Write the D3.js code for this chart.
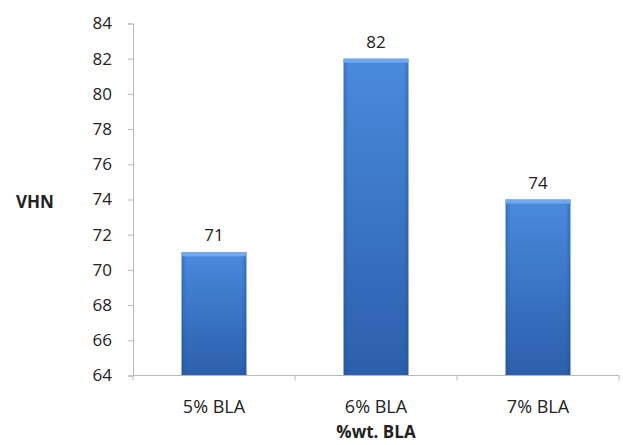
<!DOCTYPE html>
<html>
<head>
<meta charset="utf-8">
<script src="https://cdn.jsdelivr.net/npm/d3@7/dist/d3.min.js"></script>
<style>
  html, body { margin: 0; padding: 0; background: #fff; }
  text { font-family: "Open Sans", "Liberation Sans", sans-serif; fill: #222; }
</style>
</head>
<body>
<svg id="chart" width="623" height="445"></svg>
<script>
// Vickers hardness by BLA weight fraction
const categories = ["5% BLA", "6% BLA", "7% BLA"];
const hardness = [71, 82, 74];
const yTicks = [64, 66, 68, 70, 72, 74, 76, 78, 80, 82, 84];

const svg = d3.select("#chart");
const margin = { left: 133, right: 4, top: 23.5, bottom: 69.5 };
const W = 623, H = 445;

const x = d3.scaleBand()
  .domain(categories)
  .range([margin.left, W - margin.right])
  .paddingInner(0.6)
  .paddingOuter(0.3);

const y = d3.scaleLinear()
  .domain([64, 84])
  .range([H - margin.bottom, margin.top]);

const defs = svg.append("defs");
const grad = defs.append("linearGradient")
  .attr("id", "barFill").attr("x1", 0).attr("y1", 0).attr("x2", 0).attr("y2", 1);
grad.append("stop").attr("offset", "0%").attr("stop-color", "#4a8ade");
grad.append("stop").attr("offset", "100%").attr("stop-color", "#2b5fab");

const side = defs.append("linearGradient")
  .attr("id", "barSide").attr("x1", 0).attr("y1", 0).attr("x2", 1).attr("y2", 0);
side.append("stop").attr("offset", "0%").attr("stop-color", "#1d4a8c").attr("stop-opacity", 0.4);
side.append("stop").attr("offset", "7%").attr("stop-color", "#1d4a8c").attr("stop-opacity", 0);
side.append("stop").attr("offset", "93%").attr("stop-color", "#1d4a8c").attr("stop-opacity", 0);
side.append("stop").attr("offset", "100%").attr("stop-color", "#1d4a8c").attr("stop-opacity", 0.4);

// Bars
const bars = svg.append("g");
const bw = x.bandwidth();
categories.forEach((c, i) => {
  const v = hardness[i];
  const x0 = x(c), yTop = y(v), yBase = y(64);
  bars.append("rect")
    .attr("x", x0).attr("y", yTop)
    .attr("width", bw).attr("height", yBase - yTop)
    .attr("fill", "url(#barFill)");
  bars.append("rect")
    .attr("x", x0).attr("y", yTop)
    .attr("width", bw).attr("height", yBase - yTop)
    .attr("fill", "url(#barSide)");
  // bevelled top edge
  bars.append("rect")
    .attr("x", x0).attr("y", yTop)
    .attr("width", bw).attr("height", 4)
    .attr("fill", "#72a9ee");
  bars.append("text")
    .attr("x", x0 + bw / 2).attr("y", yTop - 11)
    .attr("text-anchor", "middle")
    .attr("font-size", 17)
    .text(v);
});

// Y axis
const yAxis = svg.append("g")
  .attr("transform", `translate(${margin.left},0)`)
  .call(d3.axisLeft(y).tickValues(yTicks).tickSize(5).tickPadding(16).tickFormat(d3.format("d")));
yAxis.select(".domain").attr("stroke", "#b8b8b8");
yAxis.selectAll(".tick line").attr("stroke", "#b8b8b8");
yAxis.selectAll(".tick text").attr("font-size", 17).attr("fill", "#222");

// X axis
const xAxis = svg.append("g")
  .attr("transform", `translate(0,${y(64)})`);
xAxis.append("line")
  .attr("x1", margin.left).attr("x2", W - margin.right)
  .attr("y1", 0).attr("y2", 0)
  .attr("stroke", "#b8b8b8");
const bounds = [0, 1, 2, 3].map(k => margin.left + k * (W - margin.right - margin.left) / 3);
xAxis.selectAll(".xt").data(bounds).enter().append("line")
  .attr("x1", d => d).attr("x2", d => d)
  .attr("y1", 0).attr("y2", 5)
  .attr("stroke", "#b8b8b8");
xAxis.selectAll(".xl").data(categories).enter().append("text")
  .attr("x", d => x(d) + bw / 2)
  .attr("y", 37)
  .attr("text-anchor", "middle")
  .attr("font-size", 18)
  .text(d => d);

// Axis titles
svg.append("text")
  .attr("x", 16).attr("y", 208)
  .attr("font-size", 17).attr("font-weight", "bold")
  .text("VHN");
svg.append("text")
  .attr("x", x(categories[1]) + bw / 2).attr("y", 438)
  .attr("text-anchor", "middle")
  .attr("font-size", 17).attr("font-weight", "bold")
  .text("%wt. BLA");
</script>
</body>
</html>
